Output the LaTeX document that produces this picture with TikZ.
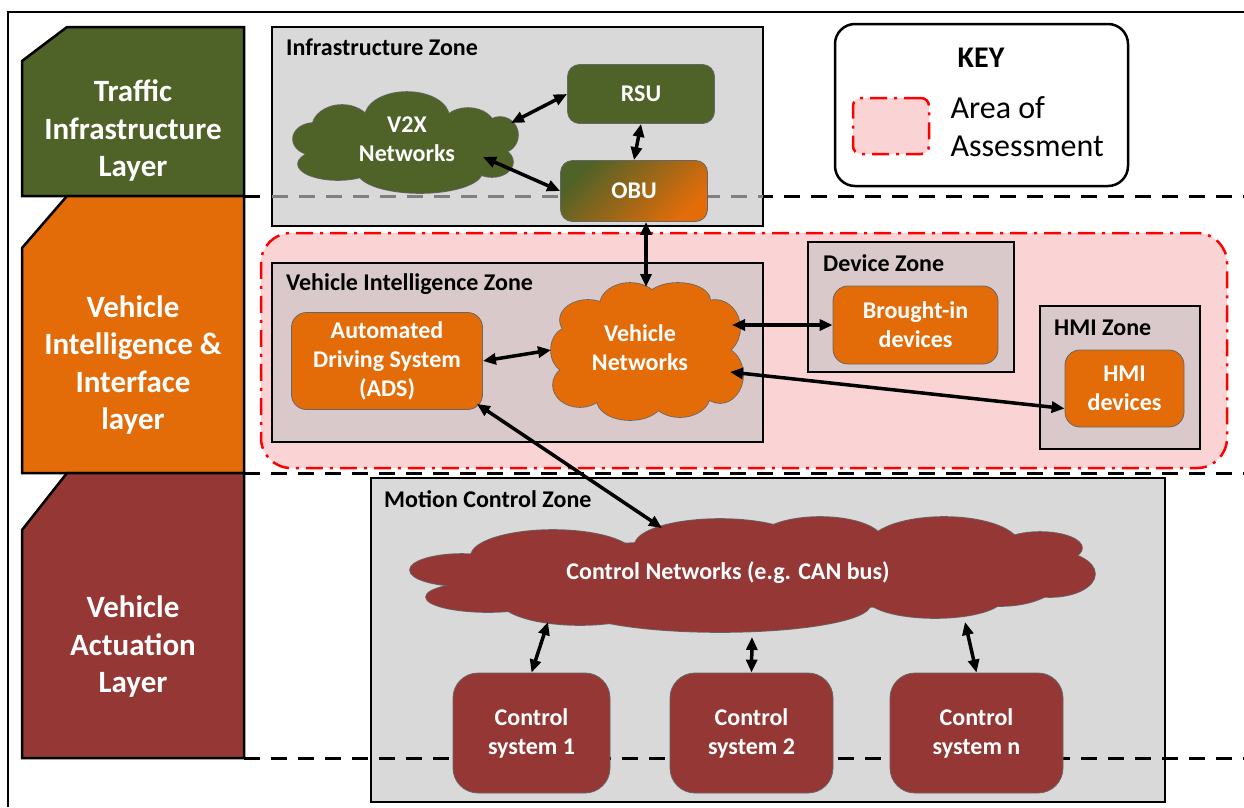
\documentclass[tikz,border=0pt]{standalone}
\usepackage{fontspec}
\setmainfont{Carlito}
\usepackage{tikz}
\usetikzlibrary{arrows.meta}
\definecolor{infra}{HTML}{4F6228}
\definecolor{intel}{HTML}{E36C09}
\definecolor{actu}{HTML}{953735}
\definecolor{zonegray}{HTML}{D9D9D9}
\definecolor{zonepink}{HTML}{D9C9CA}
\definecolor{assess}{HTML}{FAD4D5}
% cloud puffs: x/y/x radius/y radius
\def\vtwoxpuffs{342/128/30/23, 407/117/42/25, 468/128/27/20, 500/135/18/18, 492/162/21/15, 420/172/62/21, 338/164/40/16, 314/139/21/16, 405/142/85/32}
\def\vnetpuffs{588/320/28/20, 630/305/30/22, 678/300/32/17, 715/328/25/28, 720/375/23/28, 680/395/30/22, 630/400/33/20, 580/385/27/22, 568/350/17/22, 647/350/75/50}
\def\cnetpuffs{462/570/52/16, 488/597/62/15, 553/556/82/26, 720/545/85/26, 820/540/62/23, 944/545/75/28, 1040/548/42/16, 1050/574/45/23, 1000/578/60/28, 935/598/68/20, 720/605/150/27, 580/600/80/25, 752/575/290/35}

\begin{document}
\begin{tikzpicture}[x=1pt,y=-1pt,>={Triangle[length=13pt,width=11pt]},
	layershape/.style={draw, line width=2.5pt},
	layertext/.style={text=white, font=\fontsize{31}{37.5}\selectfont\bfseries, align=center},
	layerline/.style={line width=3pt, dash pattern=on 16pt off 11pt},
	zone/.style={rectangle, draw, line width=2.5pt, fill=zonegray, inner sep=0pt},
	zonetitle/.style={anchor=base west, inner sep=0pt, font=\fontsize{24}{28}\selectfont\bfseries},
	box/.style={rectangle, rounded corners=12pt, draw=black!60, line width=0.8pt, text=white, font=\fontsize{24}{29}\selectfont\bfseries, align=center},
	nettext/.style={text=white, font=\fontsize{24}{29}\selectfont\bfseries, align=center},
	puff/.style={draw=black!60, line width=1.6pt},
	link/.style={<->, line width=3.5pt},
	dashdot/.style={draw=red, line width=2.5pt, dash pattern=on 17pt off 7pt on 3pt off 7pt}]
	\useasboundingbox (0,0) rectangle (1244,807);
	\draw[line width=2.5pt] (8,807) -- (8,12) -- (1244,12);

	% layers
	\draw[layershape, fill=infra] (22,61) -- (67,27) -- (244,27) -- (244,196) -- (22,196) -- cycle;
	\draw[layershape, fill=intel] (22,248) -- (67,196) -- (244,196) -- (244,473) -- (22,473) -- cycle;
	\draw[layershape, fill=actu] (22,530) -- (67,473) -- (244,473) -- (244,758) -- (22,758) -- cycle;
	\node[layertext] at (133,131) (trafficlayer) {Traffic\\Infrastructure\\Layer};
	\node[layertext] at (133,365) (intellayer) {Vehicle\\Intelligence \&\\Interface\\layer};
	\node[layertext] at (133,647) (actulayer) {Vehicle\\Actuation\\Layer};
	\draw[layerline] (244,196) -- (1244,196);

	% infrastructure zone
	\node[zone, minimum width=491pt, minimum height=199pt] at (517.5,126.5) (infzone) {};
	\draw[layerline, black!50] (272,196) -- (763,196);
	\node[zonetitle] at (286,55) (inftitle) {Infrastructure Zone};

	% key
	\node[draw, rounded corners=20pt, line width=2.5pt, minimum width=293pt, minimum height=162pt] at (981.5,105) (key) {};
	\node[font=\fontsize{30}{34}\selectfont\bfseries] at (981,58) (keytitle) {KEY};
	\node[dashdot, fill=assess, rounded corners=8pt, minimum width=76pt, minimum height=56pt] at (891,126) (keyswatch) {};
	\node[anchor=west, align=left, font=\fontsize{32}{38}\selectfont] at (947,127) (keytext) {Area of\\Assessment};

	% area of assessment
	\node[dashdot, fill=assess, rounded corners=30pt, minimum width=966pt, minimum height=235pt] at (744,350.5) (area) {};
	\draw[layerline] (244,473) -- (1244,473);
	\node[zone, fill=zonepink, minimum width=491pt, minimum height=179pt] at (517.5,352.5) (vizone) {};
	\node[zonetitle] at (286,290) (viztitle) {Vehicle Intelligence Zone};
	\node[zone, fill=zonepink, minimum width=206pt, minimum height=130pt] at (911,307) (devzone) {};
	\node[zonetitle] at (823,271) (devtitle) {Device Zone};
	\node[zone, fill=zonepink, minimum width=160pt, minimum height=143pt] at (1120,377.5) (hmizone) {};
	\node[zonetitle] at (1054,335) (hmititle) {HMI Zone};

	% motion control zone
	\node[zone, minimum width=794pt, minimum height=324pt] at (768,640) (mczone) {};
	\node[zonetitle] at (384,507) (mctitle) {Motion Control Zone};
	\draw[layerline] (244,758) -- (1244,758);

	% clouds
	\foreach \cx/\cy/\rx/\ry in \vtwoxpuffs \draw[puff] (\cx,\cy) ellipse [x radius=\rx, y radius=\ry];
	\foreach \cx/\cy/\rx/\ry in \vtwoxpuffs \fill[infra] (\cx,\cy) ellipse [x radius=\rx, y radius=\ry];
	\foreach \cx/\cy/\rx/\ry in \vnetpuffs \draw[puff] (\cx,\cy) ellipse [x radius=\rx, y radius=\ry];
	\foreach \cx/\cy/\rx/\ry in \vnetpuffs \fill[intel] (\cx,\cy) ellipse [x radius=\rx, y radius=\ry];
	\foreach \cx/\cy/\rx/\ry in \cnetpuffs \draw[puff] (\cx,\cy) ellipse [x radius=\rx, y radius=\ry];
	\foreach \cx/\cy/\rx/\ry in \cnetpuffs \fill[actu] (\cx,\cy) ellipse [x radius=\rx, y radius=\ry];

	% nodes
	\node[nettext] at (407,139) (v2x) {V2X\\Networks};
	\node[box, fill=infra, minimum width=147pt, minimum height=59pt] at (641,94) (rsu) {RSU};
	\node[box, top color=infra, bottom color=intel, shading angle=45, minimum width=147pt, minimum height=61pt] at (634,191) (obu) {OBU};
	\node[box, fill=intel, rounded corners=15pt, minimum width=191pt, minimum height=97pt] at (387,361) (ads) {Automated\\Driving System\\(ADS)};
	\node[nettext] at (640,348) (vn) {Vehicle\\Networks};
	\node[box, fill=intel, rounded corners=15pt, minimum width=165pt, minimum height=78pt] at (915.5,325) (brought) {Brought-in\\devices};
	\node[box, fill=intel, rounded corners=15pt, minimum width=119pt, minimum height=77pt] at (1124.5,388.5) (hmi) {HMI\\devices};
	\node[nettext] at (728,573) (cnet) {Control Networks (e.g. CAN bus)};
	\node[box, fill=actu, rounded corners=25pt, minimum width=157pt, minimum height=120pt] at (531.5,733) (cs1) {Control\\system 1};
	\node[box, fill=actu, rounded corners=25pt, minimum width=163pt, minimum height=120pt] at (751.5,733) (cs2) {Control\\system 2};
	\node[box, fill=actu, rounded corners=25pt, minimum width=173pt, minimum height=120pt] at (976.5,733) (csn) {Control\\system n};

	% links
	\draw[link] ([xshift=104pt,yshift=16pt]v2x.center) -- (rsu.west);
	\draw[link] ([xshift=76pt,yshift=-18pt]v2x.center) -- (obu.west);
	\draw[link] (rsu.south) -- (obu.north);
	\draw[link] ([xshift=12pt]obu.south) -- ([xshift=6pt,yshift=61pt]vn.center);
	\draw[link] (ads.east) -- ([xshift=-89pt,yshift=-2pt]vn.center);
	\draw[link] ([xshift=92pt,yshift=23pt]vn.center) -- (brought.west);
	\draw[link] ([xshift=90pt,yshift=-24pt]vn.center) -- ([yshift=-20pt]hmi.west);
	\draw[link] ([xshift=-6pt,yshift=6pt]ads.south east) -- ([xshift=-66pt,yshift=45pt]cnet.center);
	\draw[link] ([xshift=-180pt,yshift=-49pt]cnet.center) -- (cs1.north);
	\draw[link] ([xshift=24pt,yshift=-64pt]cnet.center) -- (cs2.north);
	\draw[link] ([xshift=237pt,yshift=-49pt]cnet.center) -- (csn.north);
\end{tikzpicture}
\end{document}
